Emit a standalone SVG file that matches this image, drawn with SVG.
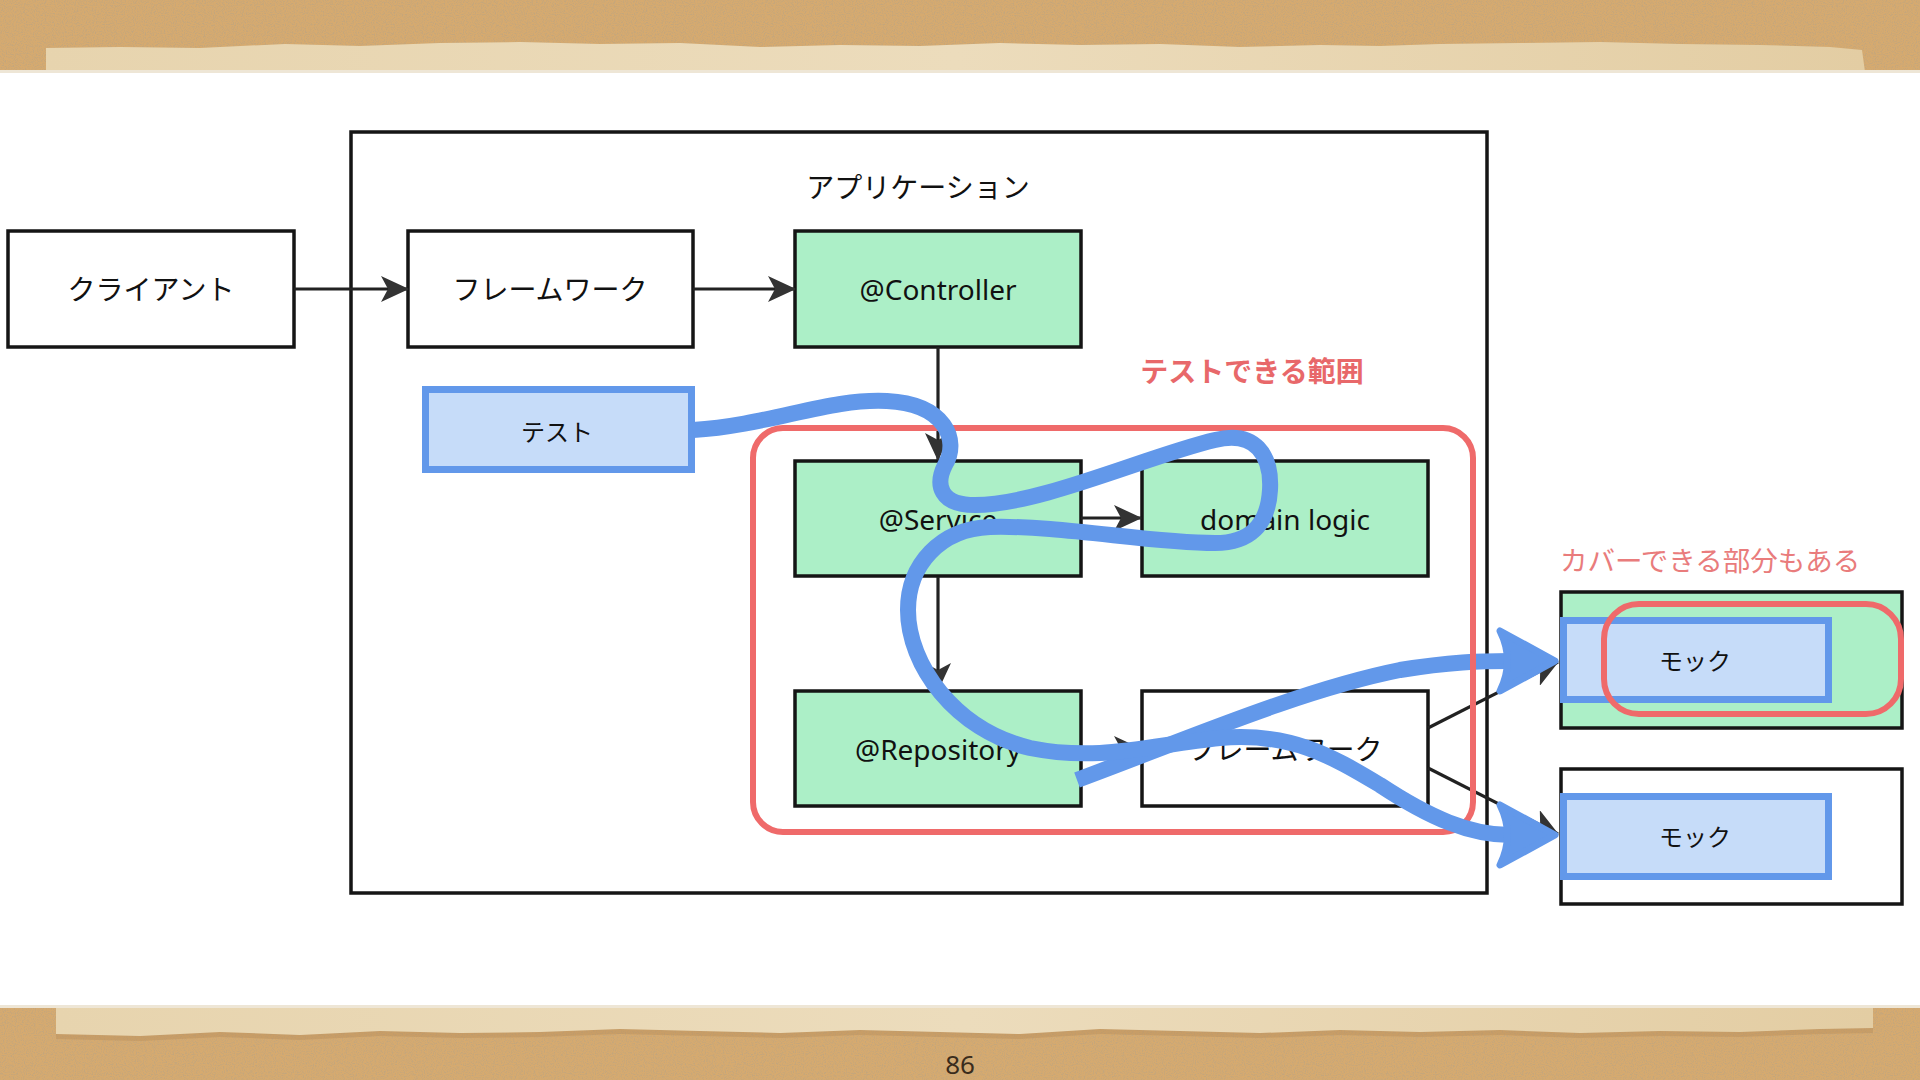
<svg xmlns="http://www.w3.org/2000/svg" width="1920" height="1080" viewBox="0 0 1920 1080">
<defs>
<style>
.box{stroke:#151515;stroke-width:3.5;fill:#fff}
.green{fill:#acefc7}
.blue{fill:#c6dcf9;stroke:#6298ea;stroke-width:7}
.t{font-family:"Noto Sans","Noto Sans CJK JP",sans-serif;font-size:28px;fill:#111;text-anchor:middle;dominant-baseline:central}
.ts{font-size:24px}
.red{fill:none;stroke:#ef6a6a;stroke-width:6}
.con{stroke:#222;stroke-width:3.2;fill:none}
.flow{fill:none;stroke:#6298ea;stroke-width:16;stroke-linecap:butt;stroke-linejoin:round}
.head{fill:#6298ea;stroke:#6298ea;stroke-width:7;stroke-linejoin:round}
</style>
<marker id="arr" viewBox="0 0 28 26" refX="27" refY="13" markerWidth="28" markerHeight="26" markerUnits="userSpaceOnUse" orient="auto">
<path d="M0,0 L28,13 L0,26 L7,13 Z" fill="#333"/>
</marker>
<filter id="noise" x="0" y="0" width="100%" height="100%">
<feTurbulence type="fractalNoise" baseFrequency="0.9" numOctaves="2" seed="4"/>
<feColorMatrix type="matrix" values="0 0 0 0 0.55  0 0 0 0 0.38  0 0 0 0 0.2  3 0 0 0 -1.3"/>
</filter>
<linearGradient id="tape" x1="0" y1="0" x2="1" y2="0">
<stop offset="0" stop-color="#e7d4ae"/>
<stop offset="0.5" stop-color="#ecdcbc"/>
<stop offset="1" stop-color="#e3cda3"/>
</linearGradient>
</defs>

<g id="background">
<rect x="0" y="0" width="1920" height="1080" fill="#fff"/>
<rect x="0" y="0" width="1920" height="72" fill="#d6aa6f"/>
<rect x="0" y="0" width="1920" height="72" filter="url(#noise)"/>
<path d="M46,48 L120,47 L200,48 L285,44 L360,46 L440,43 L520,42 L600,44 L680,43 L760,47 L840,45 L920,46 L1000,43 L1080,45 L1160,44 L1240,47 L1320,45 L1380,46 L1440,44 L1520,43 L1600,42 L1680,44 L1760,45 L1830,47 L1862,50 L1865,72 L46,72 Z" fill="url(#tape)"/>
<rect x="0" y="70" width="1920" height="3" fill="#eee6d6"/>
<rect x="0" y="1007" width="1920" height="73" fill="#d6aa6f"/>
<rect x="0" y="1007" width="1920" height="73" filter="url(#noise)"/>
<path d="M56,1034 L140,1036 L220,1032 L300,1035 L380,1031 L460,1033 L540,1032 L620,1029 L700,1031 L780,1033 L860,1030 L940,1032 L1020,1034 L1100,1029 L1180,1031 L1260,1033 L1340,1030 L1420,1032 L1500,1030 L1580,1033 L1660,1031 L1740,1032 L1820,1029 L1873,1028 L1873,1007 L56,1007 Z" fill="#b98e5a" opacity="0.45" transform="translate(0,5)"/>
<path d="M56,1034 L140,1036 L220,1032 L300,1035 L380,1031 L460,1033 L540,1032 L620,1029 L700,1031 L780,1033 L860,1030 L940,1032 L1020,1034 L1100,1029 L1180,1031 L1260,1033 L1340,1030 L1420,1032 L1500,1030 L1580,1033 L1660,1031 L1740,1032 L1820,1029 L1873,1028 L1873,1007 L56,1007 Z" fill="url(#tape)"/>
<rect x="0" y="1005" width="1920" height="3" fill="#eee6d6"/>
<text x="960" y="1064" style="font-family:'Noto Sans',sans-serif;font-size:26px;fill:#3a2c1c;text-anchor:middle;dominant-baseline:central">86</text>
</g>

<g id="application">
<rect x="351" y="132" width="1136" height="761" fill="none" stroke="#151515" stroke-width="3.5"/>
<text class="t" x="918" y="187">アプリケーション</text>
</g>

<g id="client">
<rect class="box" x="8" y="231" width="286" height="116"/>
<text class="t" x="151" y="289">クライアント</text>
</g>
<g id="framework">
<rect class="box" x="408" y="231" width="285" height="116"/>
<text class="t" x="550" y="289">フレームワーク</text>
</g>
<g id="controller">
<rect class="box green" x="795" y="231" width="286" height="116"/>
<text class="t" x="938" y="289">@Controller</text>
</g>
<g id="test">
<rect class="blue" x="425.5" y="389.5" width="266" height="80"/>
<text class="t ts" x="557" y="431">テスト</text>
</g>
<g id="service">
<rect class="box green" x="795" y="461" width="286" height="115"/>
<text class="t" x="938" y="519">@Service</text>
</g>
<g id="domain-logic">
<rect class="box green" x="1142" y="461" width="286" height="115"/>
<text class="t" x="1285" y="519">domain logic</text>
</g>
<g id="repository">
<rect class="box green" x="795" y="691" width="286" height="115"/>
<text class="t" x="938" y="749">@Repository</text>
</g>
<g id="framework2">
<rect class="box" x="1142" y="691" width="286" height="115"/>
<text class="t" x="1285" y="749">フレームワーク</text>
</g>
<g id="mock1">
<rect class="box green" x="1561" y="592" width="341" height="136"/>
<rect class="blue" x="1563.5" y="620.5" width="265" height="79"/>
<text class="t ts" x="1695" y="660">モック</text>
</g>
<g id="mock2">
<rect class="box" x="1561" y="769" width="341" height="135"/>
<rect class="blue" x="1563.5" y="796.5" width="265" height="80"/>
<text class="t ts" x="1695" y="836">モック</text>
</g>

<g id="connectors">
<line class="con" x1="294" y1="289" x2="408" y2="289" marker-end="url(#arr)"/>
<line class="con" x1="693" y1="289" x2="795" y2="289" marker-end="url(#arr)"/>
<line class="con" x1="938" y1="347" x2="938" y2="460" marker-end="url(#arr)"/>
<line class="con" x1="1081" y1="518" x2="1141" y2="518" marker-end="url(#arr)"/>
<line class="con" x1="938" y1="577" x2="938" y2="690" marker-end="url(#arr)"/>
<line class="con" x1="1081" y1="749" x2="1141" y2="749" marker-end="url(#arr)"/>
<line class="con" x1="1428" y1="728" x2="1558" y2="662" marker-end="url(#arr)"/>
<line class="con" x1="1428" y1="768" x2="1558" y2="834" marker-end="url(#arr)"/>
</g>

<g id="test-flow-mock1">
<path class="flow" d="M1077,780 C1180,742 1300,690 1400,670 C1450,662 1480,661 1510,661"/>
</g>

<g id="testable-range">
<rect class="red" x="753" y="428" width="720" height="404" rx="30" ry="30"/>
<text x="1252" y="370" style="font-family:'Noto Sans CJK JP',sans-serif;font-size:28px;font-weight:bold;fill:#e8686a;text-anchor:middle;dominant-baseline:central">テストできる範囲</text>
</g>

<g id="test-flow">
<path class="flow" d="M693,430 C770,425 830,398 887,401 C945,404 960,440 945,465 C935,485 940,505 975,505 C1040,505 1150,455 1215,440 C1255,430 1272,455 1270,490 C1268,525 1250,543 1215,543 C1150,543 1060,525 990,527 C940,529 908,565 908,610 C908,665 955,730 1030,748 C1100,762 1150,745 1220,738 C1290,732 1330,755 1380,785 C1430,818 1470,835 1510,835"/>
<path class="head" d="M1555,661 L1500,631 Q1515,661 1500,691 Z"/>
<path class="head" d="M1555,835 L1500,805 Q1515,835 1500,865 Z"/>
</g>

<g id="coverable">
<rect class="red" x="1604" y="604" width="297" height="110" rx="35" ry="35"/>
<text x="1560" y="559" style="font-family:'Noto Sans CJK JP',sans-serif;font-size:27.5px;fill:#e97c7c;dominant-baseline:central">カバーできる部分もある</text>
</g>
</svg>
